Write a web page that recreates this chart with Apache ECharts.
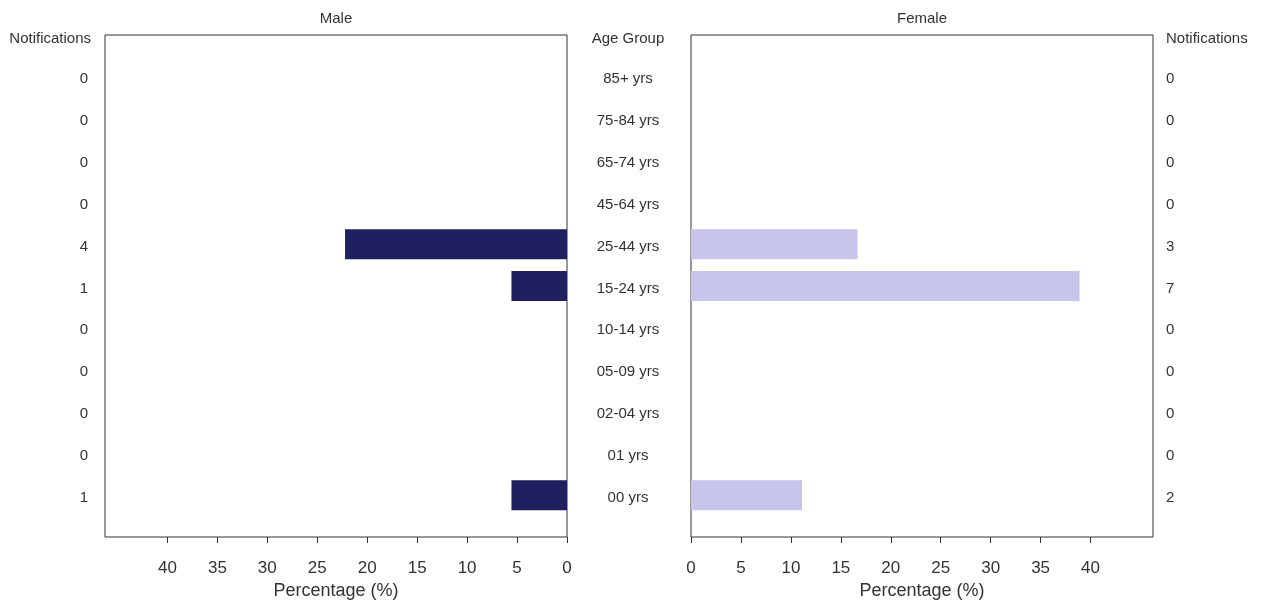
<!DOCTYPE html>
<html>
<head>
<meta charset="utf-8">
<script src="https://cdn.jsdelivr.net/npm/echarts@6/dist/echarts.min.js"></script>
<style>
html,body{margin:0;padding:0;background:#fff;}
#chart{width:1263px;height:603px;}
</style>
</head>
<body>
<div id="chart"></div>
<script>
// Data (bottom to top)
const ageGroups = ['00 yrs','01 yrs','02-04 yrs','05-09 yrs','10-14 yrs','15-24 yrs','25-44 yrs','45-64 yrs','65-74 yrs','75-84 yrs','85+ yrs'];
const maleNotifications = [1,0,0,0,0,1,4,0,0,0,0];
const femaleNotifications = [2,0,0,0,0,7,3,0,0,0,0];
const malePercent = [5.56,0,0,0,0,5.56,22.22,0,0,0,0];
const femalePercent = [11.11,0,0,0,0,38.89,16.67,0,0,0,0];
const percentTicks = [0,5,10,15,20,25,30,35,40];

const FONT = 'Liberation Sans, Arial, sans-serif';
const TXT = '#333333';
const LINE = '#333333';

function pad(arr){ return [''].concat(arr.map(String)).concat(['']); }
function padVals(arr){ return [null].concat(arr.map(v => v === 0 ? null : v)).concat([null]); }

const chart = echarts.init(document.getElementById('chart'));

const catAxisBase = {
  type: 'category',
  boundaryGap: false,
  axisLine: {show: false},
  axisTick: {show: false},
  splitLine: {show: false}
};

const xAxisBase = {
  type: 'value',
  min: 0,
  max: 46.25,
  axisLine: {show: false},
  axisTick: {show: true, length: 6, lineStyle: {color: LINE}, customValues: percentTicks},
  axisLabel: {fontFamily: FONT, fontSize: 17, color: TXT, margin: 23, customValues: percentTicks},
  splitLine: {show: false},
  name: 'Percentage (%)',
  nameLocation: 'middle',
  nameGap: 45,
  nameTextStyle: {fontFamily: FONT, fontSize: 18, color: TXT}
};

const labelStyle = {
  fontFamily: FONT, fontSize: 15, color: TXT,
  formatter: v => v === '' ? '' : '{t|' + v + '}',
  rich: {t: {fontFamily: FONT, fontSize: 15, color: TXT, padding: [5, 0, 0, 0]}}
};

const gridBase = {width: 462, top: 35, height: 502, show: true, borderColor: LINE, borderWidth: 1,
  backgroundColor: 'transparent', containLabel: false, outerBoundsMode: 'none'};

const option = {
  animation: false,
  backgroundColor: '#ffffff',
  grid: [
    Object.assign({}, gridBase, {left: 105}),
    Object.assign({}, gridBase, {left: 691})
  ],
  xAxis: [
    Object.assign({}, xAxisBase, {gridIndex: 0, inverse: true}),
    Object.assign({}, xAxisBase, {gridIndex: 1})
  ],
  yAxis: [
    Object.assign({}, catAxisBase, {gridIndex: 0, position: 'left', data: pad(maleNotifications),
      axisLabel: Object.assign({}, labelStyle, {margin: 17, align: 'right'})}),
    Object.assign({}, catAxisBase, {gridIndex: 0, position: 'right', data: pad(ageGroups),
      axisLabel: Object.assign({}, labelStyle, {margin: 61, align: 'center'})}),
    Object.assign({}, catAxisBase, {gridIndex: 1, position: 'left', data: pad(ageGroups),
      axisLabel: {show: false}}),
    Object.assign({}, catAxisBase, {gridIndex: 1, position: 'right', data: pad(femaleNotifications),
      axisLabel: Object.assign({}, labelStyle, {margin: 13, align: 'left'})})
  ],
  series: [
    {type: 'bar', name: 'Male', xAxisIndex: 0, yAxisIndex: 1, data: padVals(malePercent),
     barWidth: 30, itemStyle: {color: '#201f5f'}},
    {type: 'bar', name: 'Female', xAxisIndex: 1, yAxisIndex: 2, data: padVals(femalePercent),
     barWidth: 30, itemStyle: {color: '#c8c5ec'}}
  ],
  graphic: [
    {type: 'text', x: 336, y: 19, style: {text: 'Male', font: '15px ' + FONT, fill: TXT, align: 'center', verticalAlign: 'middle'}},
    {type: 'text', x: 922, y: 19, style: {text: 'Female', font: '15px ' + FONT, fill: TXT, align: 'center', verticalAlign: 'middle'}},
    {type: 'text', x: 628, y: 39, style: {text: 'Age Group', font: '15px ' + FONT, fill: TXT, align: 'center', verticalAlign: 'middle'}},
    {type: 'text', x: 91, y: 39, style: {text: 'Notifications', font: '15px ' + FONT, fill: TXT, align: 'right', verticalAlign: 'middle'}},
    {type: 'text', x: 1166, y: 39, style: {text: 'Notifications', font: '15px ' + FONT, fill: TXT, align: 'left', verticalAlign: 'middle'}}
  ]
};

chart.setOption(option);
</script>
</body>
</html>
